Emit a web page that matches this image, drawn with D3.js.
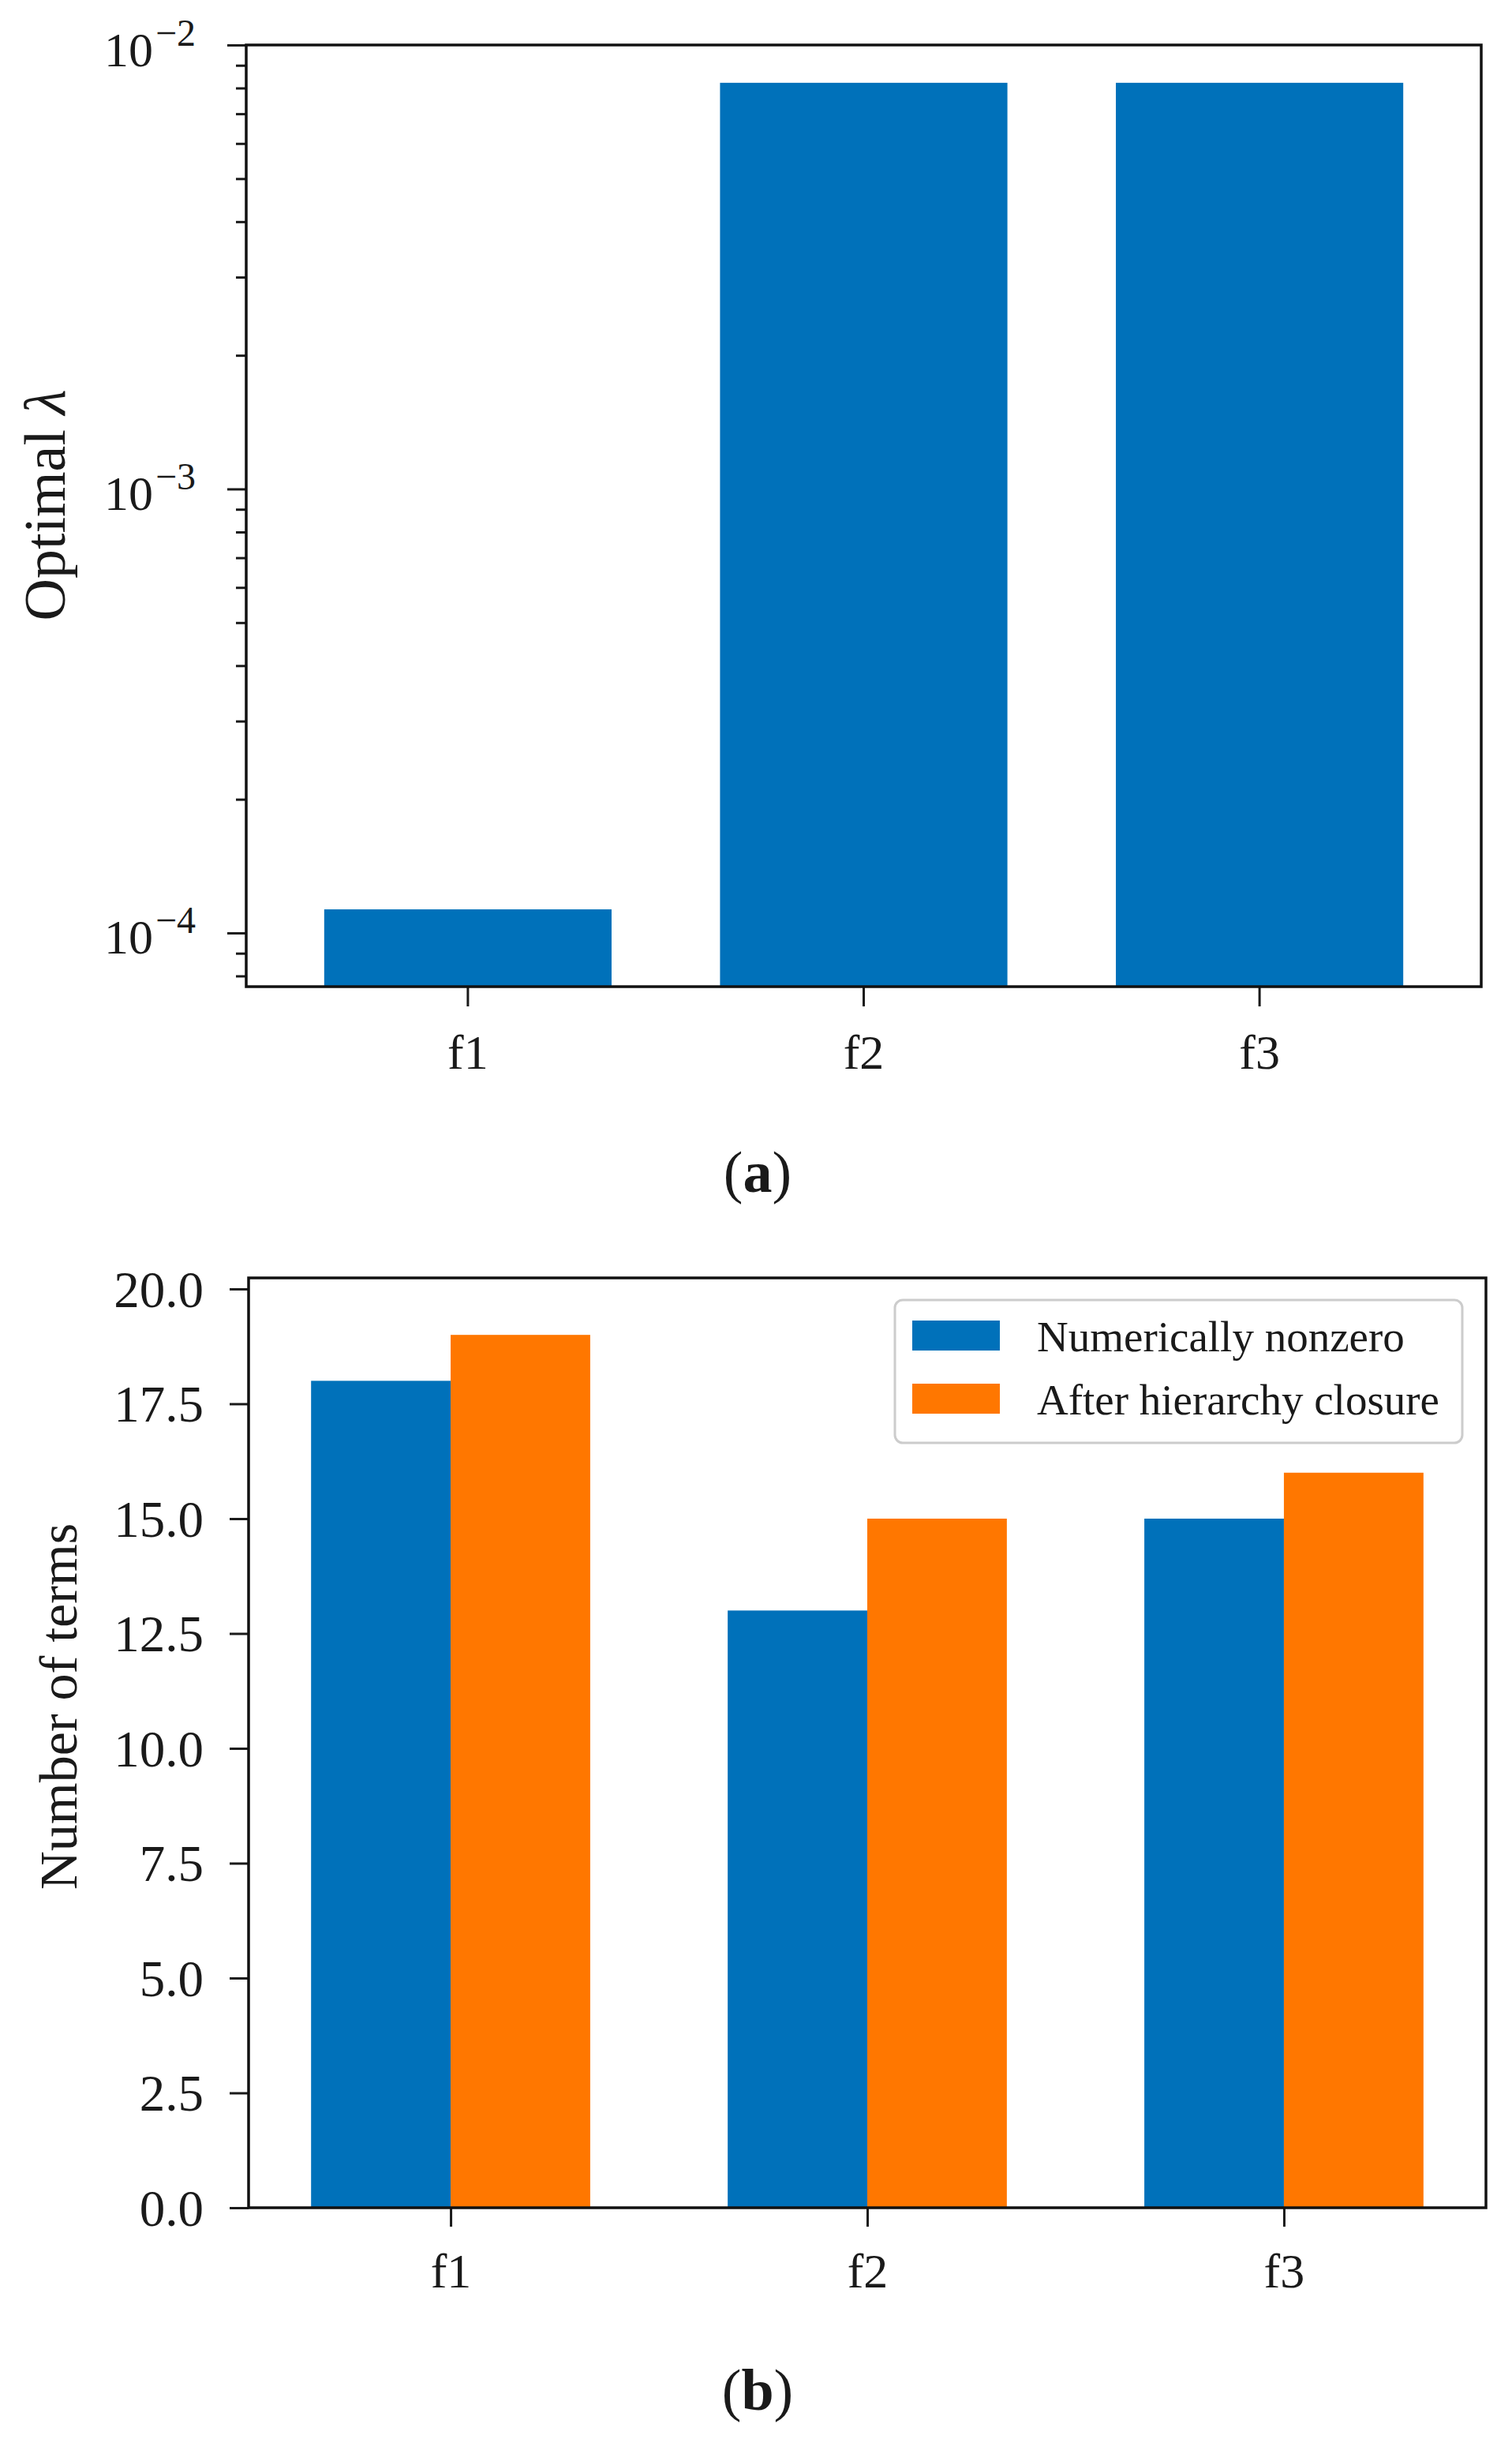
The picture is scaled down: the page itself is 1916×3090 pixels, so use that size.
<!DOCTYPE html>
<html>
<head>
<meta charset="utf-8">
<script src="https://cdn.jsdelivr.net/npm/d3@7/dist/d3.min.js"></script>
<style>
  html, body { margin: 0; padding: 0; background: #ffffff; }
  svg { display: block; }
  text { font-family: "Liberation Serif", "Times New Roman", serif; fill: #1a1a1a; }
</style>
</head>
<body>
<script>
// ---------- data ----------
const categories = ["f1", "f2", "f3"];
const optimalLambda = [1.13e-4, 8.22e-3, 8.22e-3];
const lambdaMajorTicks = [1e-4, 1e-3, 1e-2];
const termsSeries = ["Numerically nonzero", "After hierarchy closure"];
const numericallyNonzero = [18, 13, 15];
const afterClosure = [19, 15, 16];
const termsTicks = [0, 2.5, 5, 7.5, 10, 12.5, 15, 17.5, 20];
const captions = ["a", "b"];

// ---------- style ----------
const BLUE = "#0071ba";
const ORANGE = "#ff7700";
const W = 1916, H = 3090;

const svg = d3.select("body").append("svg")
  .attr("width", W).attr("height", H)
  .attr("viewBox", `0 0 ${W} ${H}`);
svg.append("rect").attr("width", W).attr("height", H).attr("fill", "#ffffff");

// ================= Panel (a) =================
const A = { left: 312, right: 1877, top: 57, bottom: 1250 };
const yA = d3.scaleLog().domain([Math.pow(10, -4.121), 1e-2]).range([A.bottom, A.top]);
const xA = d3.scaleBand().domain(categories).range([A.left, A.right])
  .paddingInner(0.274).paddingOuter(0.197);

const gA = svg.append("g");
gA.selectAll("rect.bar").data(categories).join("rect")
  .attr("class", "bar")
  .attr("x", d => xA(d))
  .attr("width", xA.bandwidth())
  .attr("y", (d, i) => yA(optimalLambda[i]))
  .attr("height", (d, i) => A.bottom - yA(optimalLambda[i]))
  .attr("fill", BLUE);

// minor ticks
const minorVals = [];
for (let e = -5; e <= -3; e++) for (let m = 2; m <= 9; m++) {
  const v = m * Math.pow(10, e);
  if (v >= yA.domain()[0] && v <= yA.domain()[1]) minorVals.push(v);
}
const minorAxis = d3.axisLeft(yA).tickValues(minorVals).tickSize(13).tickFormat(() => "");
gA.append("g").attr("transform", `translate(${A.left},0)`).call(minorAxis)
  .call(g => g.select(".domain").remove())
  .call(g => g.selectAll(".tick line").attr("stroke", "#1a1a1a").attr("stroke-width", 3));

const majorAxis = d3.axisLeft(yA).tickValues(lambdaMajorTicks).tickSize(24).tickPadding(40).tickFormat(() => "");
gA.append("g").attr("transform", `translate(${A.left},0)`).call(majorAxis)
  .call(g => g.select(".domain").remove())
  .call(g => g.selectAll(".tick line").attr("stroke", "#1a1a1a").attr("stroke-width", 3))
  .call(g => g.selectAll(".tick text")
    .attr("font-size", 62).attr("fill", "#1a1a1a").attr("dy", "0.42em")
    .attr("font-family", "Liberation Serif")
    .each(function(d) {
      const t = d3.select(this);
      const exp = Math.round(Math.log10(d));
      t.append("tspan").text("10");
      t.append("tspan").attr("dy", -26).attr("dx", 3).attr("font-size", 48).text("\u2212" + Math.abs(exp));
    }));

const xAxisA = d3.axisBottom(xA).tickSize(25).tickPadding(35);
gA.append("g").attr("transform", `translate(0,${A.bottom})`).call(xAxisA)
  .call(g => g.select(".domain").remove())
  .call(g => g.selectAll(".tick line").attr("stroke", "#1a1a1a").attr("stroke-width", 3))
  .call(g => g.selectAll(".tick text").attr("font-size", 62).attr("fill", "#1a1a1a")
    .attr("font-family", "Liberation Serif").attr("dy", "0.71em"));

gA.append("rect")
  .attr("x", A.left).attr("y", A.top)
  .attr("width", A.right - A.left).attr("height", A.bottom - A.top)
  .attr("fill", "none").attr("stroke", "#111").attr("stroke-width", 3.5);

const ylabA = gA.append("text")
  .attr("transform", `translate(82,640) rotate(-90)`)
  .attr("text-anchor", "middle").attr("font-size", 74);
ylabA.append("tspan").text("Optimal ");
ylabA.append("tspan").attr("font-style", "italic").text("\u03bb");

// caption (a)
const capA = svg.append("text").attr("x", 960).attr("y", 1510)
  .attr("text-anchor", "middle").attr("font-size", 74).attr("fill", "#000");
capA.append("tspan").text("(");
capA.append("tspan").attr("font-weight", "bold").text(captions[0]);
capA.append("tspan").text(")");

// ================= Panel (b) =================
const B = { left: 315, right: 1883, top: 1619, bottom: 2797 };
const yB = d3.scaleLinear().domain([0, 20.24]).range([B.bottom, B.top]);
const xB = d3.scaleLinear().domain([-0.485, 2.485]).range([B.left, B.right]);
const bw = 0.335;

const gB = svg.append("g");
const seriesValues = [numericallyNonzero, afterClosure];
const seriesColors = [BLUE, ORANGE];
seriesValues.forEach((vals, s) => {
  gB.selectAll(`rect.s${s}`).data(categories).join("rect")
    .attr("class", `s${s}`)
    .attr("x", (d, i) => xB(s === 0 ? i - bw : i))
    .attr("width", xB(bw) - xB(0))
    .attr("y", (d, i) => yB(vals[i]))
    .attr("height", (d, i) => B.bottom - yB(vals[i]))
    .attr("fill", seriesColors[s]);
});

const yAxisB = d3.axisLeft(yB).tickValues(termsTicks).tickSize(24).tickPadding(33).tickFormat(d3.format(".1f"));
gB.append("g").attr("transform", `translate(${B.left},0)`).call(yAxisB)
  .call(g => g.select(".domain").remove())
  .call(g => g.selectAll(".tick line").attr("stroke", "#1a1a1a").attr("stroke-width", 3))
  .call(g => g.selectAll(".tick text").attr("font-size", 65).attr("fill", "#1a1a1a")
    .attr("font-family", "Liberation Serif").attr("dy", "0.34em"));

const xAxisB = d3.axisBottom(xB).tickValues([0, 1, 2]).tickSize(24).tickPadding(33)
  .tickFormat(i => categories[i]);
gB.append("g").attr("transform", `translate(0,${B.bottom})`).call(xAxisB)
  .call(g => g.select(".domain").remove())
  .call(g => g.selectAll(".tick line").attr("stroke", "#1a1a1a").attr("stroke-width", 3))
  .call(g => g.selectAll(".tick text").attr("font-size", 62).attr("fill", "#1a1a1a")
    .attr("font-family", "Liberation Serif").attr("dy", "0.71em"));

gB.append("rect")
  .attr("x", B.left).attr("y", B.top)
  .attr("width", B.right - B.left).attr("height", B.bottom - B.top)
  .attr("fill", "none").attr("stroke", "#111").attr("stroke-width", 3.5);

gB.append("text")
  .attr("transform", `translate(97,2162) rotate(-90)`)
  .attr("text-anchor", "middle").attr("font-size", 68)
  .text("Number of terms");

// legend
const leg = gB.append("g");
leg.append("rect").attr("x", 1134).attr("y", 1647).attr("width", 719).attr("height", 181)
  .attr("rx", 10).attr("fill", "#ffffff").attr("fill-opacity", 0.85)
  .attr("stroke", "#cccccc").attr("stroke-width", 3);
termsSeries.forEach((name, s) => {
  const y0 = 1673 + s * 80;
  leg.append("rect").attr("x", 1156).attr("y", y0).attr("width", 111).attr("height", 38)
    .attr("fill", seriesColors[s]);
  leg.append("text").attr("x", 1314).attr("y", y0 + 39).attr("font-size", 55).text(name);
});

// caption (b)
const capB = svg.append("text").attr("x", 960).attr("y", 3053)
  .attr("text-anchor", "middle").attr("font-size", 74).attr("fill", "#000");
capB.append("tspan").text("(");
capB.append("tspan").attr("font-weight", "bold").text(captions[1]);
capB.append("tspan").text(")");
</script>
</body>
</html>
